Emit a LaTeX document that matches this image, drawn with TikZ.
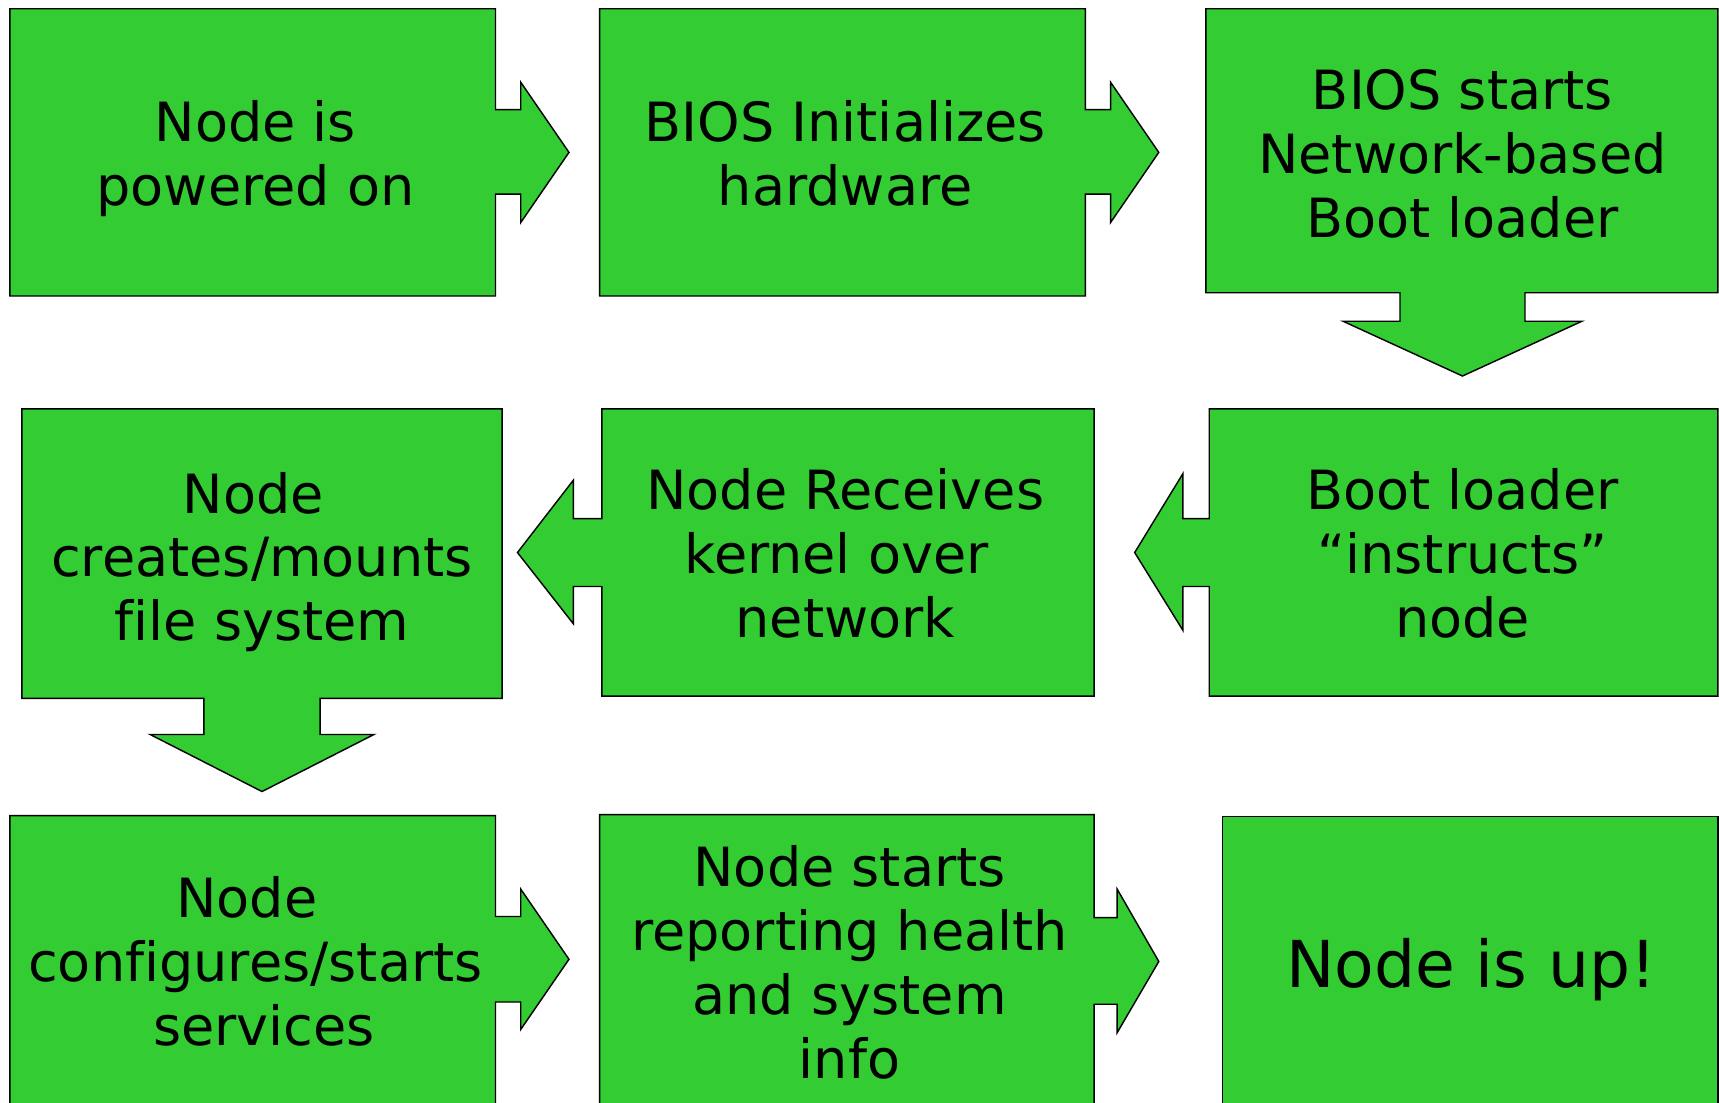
\documentclass[tikz,border=0pt]{standalone}
\usepackage{fontspec}
\setmainfont[Ligatures=CommonOff]{DejaVu Sans}
\definecolor{stepgreen}{RGB}{51,204,51}
% an explicit interword space that survives at a line end
\newcommand\tsp{\hspace*{\fontdimen2\font}}
% centred lines, baseline of the node = baseline of the first line
\newcommand\textlines[1]{\begin{tabular}[t]{@{}c@{}}#1\end{tabular}}

\begin{document}
\begin{tikzpicture}[x=1pt,y=-1pt,
  stepshape/.style={fill=stepgreen,draw=black,line width=1.3pt,line join=miter},
  steptext/.style={anchor=base,inner sep=0pt,text=black,
                   font=\fontsize{49.3}{58.3}\selectfont},
  bigtext/.style={anchor=base,inner sep=0pt,text=black,
                  font=\fontsize{59}{70}\selectfont}]
\useasboundingbox (0,0) rectangle (1568,1006);

\begin{scope}
\clip (0,0) rectangle (1568,1006);
% row 1
\path[stepshape] (9,8) -- (452,8) -- (452,100) -- (475,100) -- (475,75) -- (519,139)
  -- (475,203) -- (475,177) -- (452,177) -- (452,270) -- (9,270) -- cycle;
\path[stepshape] (547,8) -- (990,8) -- (990,100) -- (1013,100) -- (1013,75) -- (1057,139)
  -- (1013,203) -- (1013,177) -- (990,177) -- (990,270) -- (547,270) -- cycle;
\path[stepshape] (1100,8) -- (1567,8) -- (1567,267) -- (1391,267) -- (1391,293) -- (1443,293)
  -- (1334,343) -- (1225,293) -- (1277,293) -- (1277,267) -- (1100,267) -- cycle;
% row 2
\path[stepshape] (20,373) -- (458,373) -- (458,637) -- (292,637) -- (292,670) -- (341,670)
  -- (239,722) -- (137,670) -- (186,670) -- (186,637) -- (20,637) -- cycle;
\path[stepshape] (549,373) -- (998,373) -- (998,635) -- (549,635) -- (549,535) -- (523,535)
  -- (523,569) -- (472,504) -- (523,438) -- (523,473) -- (549,473) -- cycle;
\path[stepshape] (1103,373) -- (1567,373) -- (1567,635) -- (1103,635) -- (1103,535) -- (1079,535)
  -- (1079,575) -- (1035,504) -- (1079,432) -- (1079,473) -- (1103,473) -- cycle;
% row 3
\path[stepshape] (9,744) -- (452,744) -- (452,836) -- (475,836) -- (475,811) -- (519,875)
  -- (475,939) -- (475,914) -- (452,914) -- (452,1030) -- (9,1030) -- cycle;
\path[stepshape] (547,743) -- (998,743) -- (998,837) -- (1019,837) -- (1019,811) -- (1057,877)
  -- (1019,942) -- (1019,916) -- (998,916) -- (998,1030) -- (547,1030) -- cycle;
\path[stepshape] (1115,745) rectangle (1567,1030);
\end{scope}

% labels
\node[steptext] (t1) at (233,129.5) {\textlines{Node is\\powered on}};
\node[steptext] (t2) at (771,129) {\textlines{BIOS Initializes\\hardware}};
\node[steptext] (t3) at (1334,100) {\textlines{BIOS starts\\Network-based\\Boot loader}};
\node[steptext] (t4) at (239,468) {\textlines{Node\tsp\\creates/mounts\\file system}};
\node[steptext] (t5) at (771,465) {\textlines{Node Receives\\kernel over\tsp\\network}};
\node[steptext] (t6) at (1334,465) {\textlines{Boot loader\\“instructs”\\node}};
\node[steptext] (t7) at (233,837) {\textlines{Node\tsp\\configures/starts\\\tsp services}};
\node[steptext] (t8) at (775,809) {\textlines{Node starts\\reporting health\\and system\\info}};
\node[bigtext] (t9) at (1342,901) {Node is up!};
\end{tikzpicture}
\end{document}
